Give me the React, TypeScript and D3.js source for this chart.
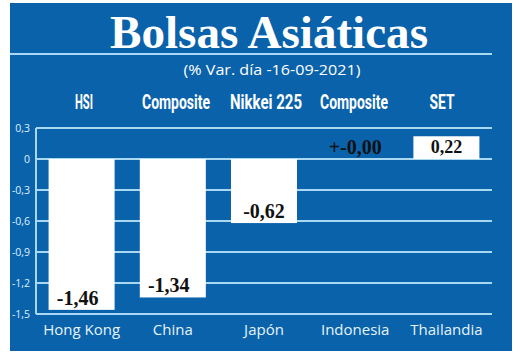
import React, { useEffect, useRef } from 'react';
import * as d3 from 'd3';

const countries = ['Hong Kong', 'China', 'Japón', 'Indonesia', 'Thailandia'];
const indexes = ['HSI', 'Composite', 'Nikkei 225', 'Composite', 'SET'];
const values = [-1.46, -1.34, -0.62, 0.0, 0.22];
const valueLabels = ['-1,46', '-1,34', '-0,62', '+-0,00', '0,22'];
const ticks = [0.3, 0, -0.3, -0.6, -0.9, -1.2, -1.5];

const BLUE = '#0a62ab';
const GRID = '#a9d9f2';

const App = () => {
  const svgRef = useRef<SVGSVGElement>(null);

  useEffect(() => {
    const width = 520;
    const height = 354;
    const svg = d3.select(svgRef.current);
    svg.selectAll('*').remove();
    svg.attr('width', width).attr('height', height);

    svg.append('rect').attr('width', width).attr('height', height).attr('fill', '#fff');
    svg.append('rect')
      .attr('x', 10).attr('y', 3)
      .attr('width', 502).attr('height', 348)
      .attr('fill', BLUE);

    // Title
    svg.append('text')
      .attr('x', 269).attr('y', 48)
      .attr('text-anchor', 'middle')
      .attr('font-family', 'Liberation Serif')
      .attr('font-weight', 'bold')
      .attr('font-size', 46)
      .attr('textLength', 318)
      .attr('lengthAdjust', 'spacingAndGlyphs')
      .attr('fill', '#fff')
      .text('Bolsas Asiáticas');

    svg.append('line')
      .attr('x1', 10).attr('x2', 492)
      .attr('y1', 54).attr('y2', 54)
      .attr('stroke', GRID).attr('stroke-width', 2);

    svg.append('text')
      .attr('x', 272).attr('y', 75)
      .attr('text-anchor', 'middle')
      .attr('font-family', 'Open Sans')
      .attr('font-size', 14)
      .attr('textLength', 177)
      .attr('lengthAdjust', 'spacingAndGlyphs')
      .attr('fill', '#fff')
      .text('(% Var. día -16-09-2021)');

    const x = d3.scaleBand<string>()
      .domain(countries)
      .range([36, 492])
      .paddingInner(0.276)
      .paddingOuter(0.138);

    const y = d3.scaleLinear().domain([0.3, -1.5]).range([128, 314]);

    // grid
    svg.append('g')
      .selectAll('line')
      .data(ticks)
      .join('line')
      .attr('x1', 36).attr('x2', 492)
      .attr('y1', d => y(d)).attr('y2', d => y(d))
      .attr('stroke', GRID).attr('stroke-width', 2);

    svg.append('line')
      .attr('x1', 36).attr('x2', 36)
      .attr('y1', y(0.3)).attr('y2', y(-1.5))
      .attr('stroke', GRID).attr('stroke-width', 2);

    // y tick labels
    svg.append('g')
      .selectAll('text')
      .data(ticks)
      .join('text')
      .attr('x', 30)
      .attr('y', d => y(d) + 4)
      .attr('text-anchor', 'end')
      .attr('font-family', 'Open Sans')
      .attr('font-size', 10.5)
      .attr('fill', '#dff1fb')
      .text(d => d3.format('.1f')(d).replace('.', ',').replace('0,0', '0').replace('−', '-'));

    // bars
    svg.append('g')
      .selectAll('rect')
      .data(values)
      .join('rect')
      .attr('x', (d, i) => x(countries[i])!)
      .attr('width', x.bandwidth())
      .attr('y', d => y(Math.max(0, d)))
      .attr('height', d => Math.abs(y(d) - y(0)))
      .attr('fill', '#fff');

    // value labels
    svg.append('g')
      .selectAll('text')
      .data(values)
      .join('text')
      .attr('x', (d, i) => x(countries[i])! + x.bandwidth() / 2 - (d < -1 ? 4 : 0))
      .attr('y', d => (d > 0 ? y(0) - 6 : d === 0 ? y(0) - 5 : y(d) - 5))
      .attr('text-anchor', 'middle')
      .attr('font-family', 'Liberation Serif')
      .attr('font-weight', 'bold')
      .attr('font-size', d => (d > 0 ? 18 : 20))
      .attr('fill', '#111')
      .text((d, i) => valueLabels[i]);

    // index names on top (condensed look)
    const topPos = [84, 176, 266, 354, 442];
    const topWidth = [18, 68, 72, 68, 25];
    svg.append('g')
      .selectAll('text')
      .data(indexes)
      .join('text')
      .attr('x', (d, i) => topPos[i])
      .attr('y', 109)
      .attr('text-anchor', 'middle')
      .attr('font-family', 'Roboto')
      .attr('font-weight', 'bold')
      .attr('font-size', 19.5)
      .attr('textLength', (d, i) => topWidth[i])
      .attr('lengthAdjust', 'spacingAndGlyphs')
      .attr('fill', '#fff')
      .text(d => d);

    // country names
    svg.append('g')
      .selectAll('text')
      .data(countries)
      .join('text')
      .attr('x', d => x(d)! + x.bandwidth() / 2)
      .attr('y', 335)
      .attr('text-anchor', 'middle')
      .attr('font-family', 'Open Sans')
      .attr('font-size', 15)
      .attr('fill', '#e6f4fc')
      .text(d => d);
  }, []);

  return <svg ref={svgRef} style={{ position: 'absolute', left: 0, top: 0 }} />;
};

export default App;
